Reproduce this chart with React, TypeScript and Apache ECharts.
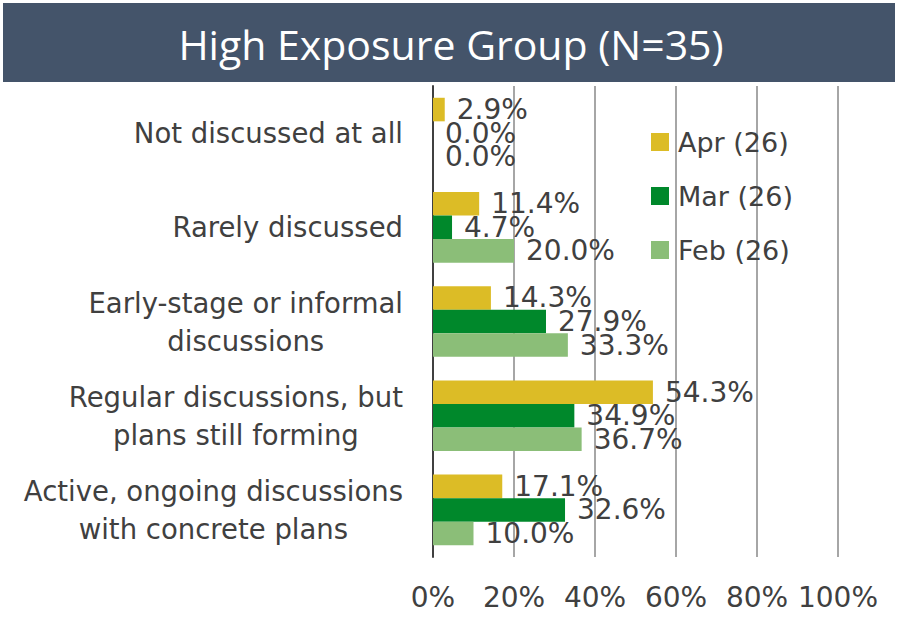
import React, { useEffect, useRef } from "react";
import * as echarts from "echarts";

const categories = [
  "Not discussed at all",
  "Rarely discussed",
  "Early-stage or informal\ndiscussions",
  "Regular discussions, but\nplans still forming",
  "Active, ongoing discussions\nwith concrete plans",
];
const seriesNames = ["Apr (26)", "Mar (26)", "Feb (26)"];
const aprValues = [2.9, 11.4, 14.3, 54.3, 17.1];
const marValues = [0.0, 4.7, 27.9, 34.9, 32.6];
const febValues = [0.0, 20.0, 33.3, 36.7, 10.0];
const xTicks = [0, 20, 40, 60, 80, 100];
const titleText = "High Exposure Group (N=35)";

const colors = ["#DCBC26", "#00882B", "#8BBE78"];
const FONT = "'DejaVu Sans', Verdana, sans-serif";
const TITLE_FONT = "'Open Sans', 'Noto Sans', sans-serif";
const TXT = "#404040";

export default function App() {
  const ref = useRef<HTMLDivElement>(null);
  useEffect(() => {
    if (!ref.current) return;
    const chart = echarts.init(ref.current, null, { renderer: "svg" });
    const data = [aprValues, marValues, febValues];
    chart.setOption({
      animation: false,
      textStyle: { fontFamily: FONT },
      graphic: [
        {
          type: "rect",
          shape: { x: 3, y: 3, width: 892, height: 79 },
          style: { fill: "#44546A" },
          z: 10,
        },
        {
          type: "text",
          x: 451,
          y: 44,
          style: {
            text: titleText,
            fill: "#FFFFFF",
            font: `41px ${TITLE_FONT}`,
            textAlign: "center",
            textVerticalAlign: "middle",
          },
          z: 11,
        },
      ],
      legend: {
        orient: "vertical",
        left: 651,
        top: 127,
        padding: 0,
        itemWidth: 18,
        itemHeight: 18,
        itemGap: 24,
        icon: "rect",
        data: seriesNames,
        textStyle: {
          color: TXT,
          fontSize: 27,
          lineHeight: 30,
          fontFamily: FONT,
          padding: [0, 0, 0, 4],
        },
      },
      grid: { left: 433, right: 60, top: 86, bottom: 61, containLabel: false },
      xAxis: {
        type: "value",
        min: 0,
        max: 100,
        interval: 20,
        axisLine: { show: false },
        axisTick: { show: false },
        splitLine: { show: true, lineStyle: { color: "#A6A6A6", width: 2 } },
        axisLabel: {
          color: TXT,
          fontSize: 28,
          fontFamily: FONT,
          margin: 26,
          formatter: (v: number) => (xTicks.includes(v) ? `${v}%` : ""),
        },
      },
      yAxis: {
        type: "category",
        inverse: true,
        data: categories,
        axisLine: { show: true, lineStyle: { color: "#404040", width: 2 } },
        axisTick: { show: false },
        axisLabel: {
          color: TXT,
          fontSize: 27.5,
          fontFamily: FONT,
          margin: 30,
          lineHeight: 38,
          align: "right",
          formatter: (v: string) =>
            v
              .split("\n")
              .map((line) => `{c|${line}}`)
              .join("\n"),
          rich: {
            c: {
              align: "center",
              color: TXT,
              fontSize: 27.5,
              fontFamily: FONT,
              lineHeight: 38,
            },
          },
        },
      },
      series: seriesNames.map((name, i) => ({
        name,
        type: "bar",
        data: data[i],
        barGap: "0%",
        barCategoryGap: "25%",
        itemStyle: { color: colors[i] },
        label: {
          show: true,
          position: "right",
          distance: 12,
          color: TXT,
          fontSize: 28,
          fontFamily: FONT,
          formatter: (p: any) => `${Number(p.value).toFixed(1)}%`,
        },
      })),
    });
    return () => chart.dispose();
  }, []);
  return <div ref={ref} style={{ width: 898, height: 618, position: "absolute", left: 0, top: 0 }} />;
}
